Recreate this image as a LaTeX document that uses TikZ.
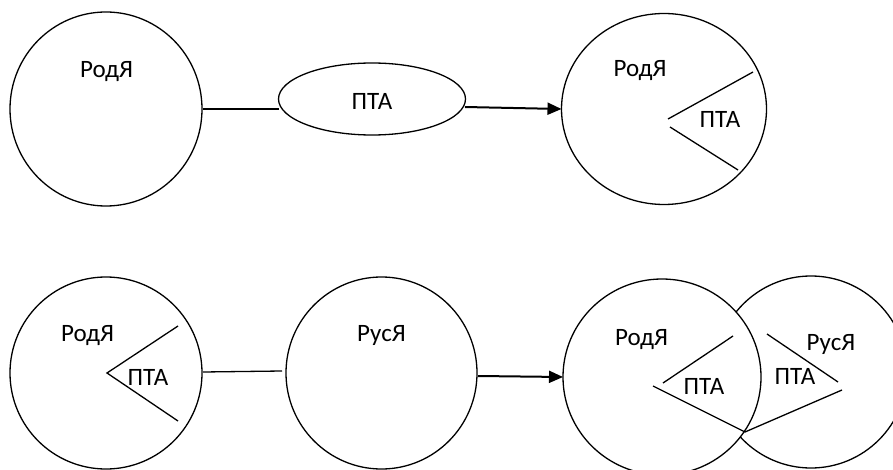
\documentclass[tikz,border=0pt]{standalone}
\usepackage{fontspec}
\setmainfont{Carlito}
\usetikzlibrary{shapes.geometric,arrows.meta}
\tikzset{
  ring/.style={draw, ellipse, line width=1.3pt, inner sep=0pt, outer sep=0pt, fill=white},
  lbl/.style={anchor=base, inner sep=0pt, font=\fontsize{25}{28}\selectfont},
  conn/.style={line width=1.3pt},
  arr/.style={line width=2pt, -{Triangle[length=14pt,width=12pt]}},
  wedge/.style={line width=1.3pt}
}
\begin{document}
\begin{tikzpicture}[x=1pt,y=-1pt]
\useasboundingbox (0,0) rectangle (893,470);
\clip (0,0) rectangle (893,470);
% top row
\node[ring, minimum width=192pt, minimum height=194pt] (c1) at (106,109) {};
\node[ring, minimum width=187pt, minimum height=72pt] (e1) at (372,99) {};
\node[ring, minimum width=205pt, minimum height=191pt] (c2) at (664,109) {};
\node[lbl] (t1) at (106.5,78) {РодЯ};
\node[lbl] (t2) at (372,110) {ПТА};
\node[lbl] (t3) at (640,77) {РодЯ};
\node[lbl] (t4) at (720,128) {ПТА};
\coordinate (l1a) at (203,109);
\coordinate (l1b) at (279,109);
\coordinate (a1a) at (465,107);
\draw[conn] (l1a) -- (l1b);
\draw[arr] (a1a) -- (c2.west);
\draw[wedge] (753,72) -- (668,119);
\draw[wedge] (670,127) -- (738,170);
% bottom row
\node[ring, minimum width=192pt, minimum height=192pt] (c3) at (106,373) {};
\node[ring, minimum width=191pt, minimum height=192pt] (c4) at (381.5,373) {};
\node[ring, minimum width=192pt, minimum height=192pt] (c6) at (811,372) {};
\node[ring, minimum width=198pt, minimum height=196pt] (c5) at (662,377) {};
\node[lbl] (t5) at (87.5,341) {РодЯ};
\node[lbl] (t6) at (148,385) {ПТА};
\node[lbl] (t7) at (381.5,341) {РусЯ};
\node[lbl] (t8) at (641.5,345) {РодЯ};
\node[lbl] (t9) at (704,394) {ПТА};
\node[lbl] (t10) at (831,350) {РусЯ};
\node[lbl] (t11) at (795,384) {ПТА};
\coordinate (l2a) at (203,372);
\coordinate (l2b) at (282,371);
\coordinate (a2a) at (478,376);
\draw[conn] (l2a) -- (l2b);
\draw[arr] (a2a) -- (c5.west);
\draw[wedge] (178,326) -- (107,373) -- (178,421);
\draw[wedge] (733,336) -- (663,383);
\draw[wedge] (653,386) -- (745,432);
\draw[wedge] (767,334) -- (838,382);
\draw[wedge] (842,390) -- (745,432);
\end{tikzpicture}
\end{document}
